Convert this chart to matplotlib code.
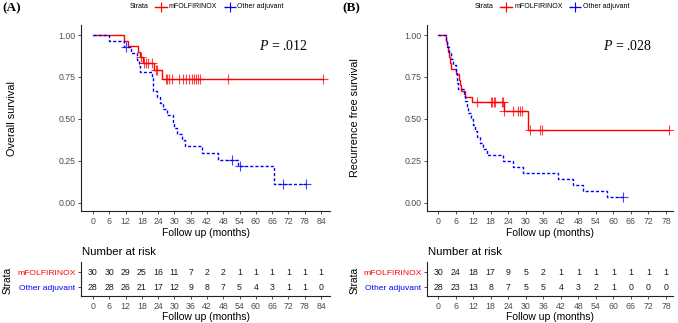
import numpy as np
import matplotlib
matplotlib.use("Agg")
import matplotlib.pyplot as plt
from matplotlib.lines import Line2D

plt.rcParams['font.family'] = ['Liberation Sans', 'DejaVu Sans']
plt.rcParams['mathtext.fontset'] = 'custom'
plt.rcParams['mathtext.it'] = 'Liberation Serif:italic'
plt.rcParams['mathtext.rm'] = 'Liberation Serif'

# ---------------- data ----------------
strata = ["mFOLFIRINOX", "Other adjuvant"]

# Panel A: overall survival
a_red_t = [0, 11.5, 12.9, 16.6, 17.4, 18.4, 22.6, 25.4]
a_red_s = [1.0, 0.967, 0.933, 0.900, 0.867, 0.833, 0.790, 0.737]
a_red_cens = [17.6, 18.9, 19.4, 20.2, 21.9, 23.3, 23.7, 26.9, 27.4, 28.0, 29.0,
              31.8, 33.1, 34.1, 35.3, 36.4, 37.3, 38.0, 38.7, 39.5, 49.7, 84.6]

a_blue_t = [0, 6.0, 11.5, 14.1, 16.2, 17.0, 17.3, 21.8, 22.0, 22.2, 23.5, 24.7,
            25.9, 27.1, 29.6, 29.9, 30.8, 32.7, 33.9, 40.0, 46.2, 53.6, 66.5]
a_blue_s = [1.0, 0.964, 0.929, 0.891, 0.854, 0.817, 0.780, 0.743, 0.706, 0.669,
            0.632, 0.595, 0.558, 0.520, 0.483, 0.446, 0.409, 0.372, 0.335, 0.297,
            0.257, 0.217, 0.110]
a_blue_cens = [12.3, 51.1, 54.2, 70.1, 78.5]

a_risk_times = [0, 6, 12, 18, 24, 30, 36, 42, 48, 54, 60, 66, 72, 78, 84]
a_risk_red = [30, 30, 29, 25, 16, 11, 7, 2, 2, 1, 1, 1, 1, 1, 1]
a_risk_blue = [28, 28, 26, 21, 17, 12, 9, 8, 7, 5, 4, 3, 1, 1, 0]
a_pval = ".012"
a_ylabel = "Overall survival"

# Panel B: recurrence free survival
b_red_t = [0, 2.6, 3.0, 3.5, 3.8, 4.1, 4.5, 6.2, 7.3, 7.6, 7.9, 9.2, 11.5, 22.4, 30.6]
b_red_s = [1.0, 0.967, 0.933, 0.900, 0.867, 0.833, 0.800, 0.767, 0.733, 0.700,
           0.667, 0.633, 0.600, 0.545, 0.436]
b_red_cens = [13.2, 18.1, 18.6, 19.0, 19.4, 21.8, 22.1, 22.6, 25.8, 27.5, 28.1,
              28.6, 31.5, 34.9, 35.5, 78.9]

b_blue_t = [0, 2.8, 3.2, 3.7, 4.3, 5.2, 6.1, 6.3, 6.5, 6.8, 8.8, 9.3, 9.9, 10.4,
            11.2, 11.8, 12.6, 13.2, 14.2, 15.3, 16.6, 22.3, 25.8, 29.0, 41.0,
            46.3, 49.6, 57.7]
b_blue_s = [1.0, 0.964, 0.929, 0.893, 0.857, 0.821, 0.786, 0.750, 0.714, 0.679,
            0.643, 0.607, 0.571, 0.536, 0.500, 0.464, 0.429, 0.393, 0.357, 0.321,
            0.286, 0.250, 0.214, 0.179, 0.143, 0.107, 0.071, 0.036]
b_blue_cens = [63.4]

b_risk_times = [0, 6, 12, 18, 24, 30, 36, 42, 48, 54, 60, 66, 72, 78]
b_risk_red = [30, 24, 18, 17, 9, 5, 2, 1, 1, 1, 1, 1, 1, 1]
b_risk_blue = [28, 23, 13, 8, 7, 5, 5, 4, 3, 2, 1, 0, 0, 0]
b_pval = ".028"
b_ylabel = "Recurrence free survival"

RED = "#FF0000"
BLUE = "#0000FF"
W, H = 678, 323

fig = plt.figure(figsize=(W / 100, H / 100), dpi=100)


def fx(px):
    return px / W


def fy(py):
    return 1 - py / H


def rect(l, t, r, b):
    return [fx(l), fy(b), (r - l) / W, (b - t) / H]


def style_axis(ax):
    for s in ["top", "right"]:
        ax.spines[s].set_visible(False)
    for s in ["left", "bottom"]:
        ax.spines[s].set_linewidth(0.8)
        ax.spines[s].set_color("#222222")
    ax.tick_params(length=2.5, width=0.6, color="#333333", labelsize=6.3,
                   labelcolor="#4D4D4D", pad=1.5)


def km(ax, t, s, cens, color, dashed):
    end = max(max(t), max(cens))
    xs = list(t) + [end]
    ys = list(s) + [s[-1]]
    ln, = ax.plot(xs, ys, drawstyle="steps-post", color=color, lw=1.0,
                  solid_joinstyle="miter")
    if dashed:
        ln.set_dashes((2.2, 1.5))
    ta = np.asarray(t)
    cy = [s[np.searchsorted(ta, c, side="right") - 1] for c in cens]
    ax.plot(cens, cy, ls="none", marker="+", ms=6.5, mew=0.8, color=color,
            alpha=0.75)


def panel(x0, x1, xlim, xt, red, blue, risk_t, risk_r, risk_b, pval, ylabel,
          tag, ylab_x, strata_x, leg):
    ax = fig.add_axes(rect(x0, 25, x1, 211))
    style_axis(ax)
    km(ax, *red, RED, False)
    km(ax, *blue, BLUE, True)
    ax.set_xlim(*xlim)
    ax.set_ylim(-0.05, 1.06)
    ax.set_xticks(xt)
    ax.set_yticks([0, 0.25, 0.5, 0.75, 1.0])
    ax.set_yticklabels(["0.00", "0.25", "0.50", "0.75", "1.00"])
    ax.text(0.815, 0.885, r"$P$ = " + pval, transform=ax.transAxes,
            fontsize=10, family="Liberation Serif", ha="center", va="center")
    cx = (x0 + x1) / 2
    fig.text(fx(cx), fy(233), "Follow up (months)", fontsize=7.5,
             ha="center", va="center")
    fig.text(fx(ylab_x), fy(118), ylabel, fontsize=7.8, rotation=90,
             ha="center", va="center")

    # risk table
    tb = fig.add_axes(rect(x0, 262, x1, 296))
    style_axis(tb)
    tb.set_xlim(*xlim)
    tb.set_ylim(0.4, 2.67)
    tb.set_xticks(xt)
    tb.set_yticks([2, 1])
    tb.set_yticklabels(strata, fontsize=6.1)
    for lab, c in zip(tb.get_yticklabels(), [RED, BLUE]):
        lab.set_color(c)
    for tt, r, b in zip(risk_t, risk_r, risk_b):
        tb.text(tt, 2, str(r), ha="center", va="center", fontsize=6.3,
                color="#1A1A1A")
        tb.text(tt, 1, str(b), ha="center", va="center", fontsize=6.3,
                color="#1A1A1A")
    fig.text(fx(x0 + 1), fy(252), "Number at risk", fontsize=8.2,
             ha="left", va="center")
    fig.text(fx(cx), fy(317), "Follow up (months)", fontsize=7.5,
             ha="center", va="center")
    fig.text(fx(strata_x), fy(280), "Strata", fontsize=7.3, rotation=90,
             ha="center", va="center")

    # tag
    fig.text(fx(tag[0]), fy(8), tag[1], fontsize=9.5, fontweight="bold",
             family="Liberation Serif", ha="left", va="center")

    # legend
    sx, rk, rtx, bk, btx = leg
    ly = fy(7)
    fig.text(fx(sx), ly, "Strata", fontsize=5.0, ha="left", va="center")
    fig.add_artist(Line2D([fx(rk - 6), fx(rk + 6)], [ly, ly], color=RED,
                          lw=1.0, transform=fig.transFigure))
    fig.add_artist(Line2D([fx(rk)], [ly], color=RED, marker="+", ms=7,
                          mew=0.8, ls="none", transform=fig.transFigure))
    fig.text(fx(rtx), ly, strata[0], fontsize=5.0, ha="left", va="center")
    bl = Line2D([fx(bk - 6), fx(bk + 6)], [ly, ly], color=BLUE, lw=1.0,
                transform=fig.transFigure)
    bl.set_dashes((2.2, 1.5))
    fig.add_artist(bl)
    fig.add_artist(Line2D([fx(bk)], [ly], color=BLUE, marker="+", ms=7,
                          mew=0.8, ls="none", transform=fig.transFigure))
    fig.text(fx(btx), ly, strata[1], fontsize=5.0, ha="left", va="center")


panel(81, 330, (-4.4, 87.3), a_risk_times,
      (a_red_t, a_red_s, a_red_cens), (a_blue_t, a_blue_s, a_blue_cens),
      a_risk_times, a_risk_red, a_risk_blue, a_pval, a_ylabel,
      (2, "(A)"), 12, 8, (130, 161, 169, 230, 237))

panel(427, 673, (-3.8, 80.4), b_risk_times,
      (b_red_t, b_red_s, b_red_cens), (b_blue_t, b_blue_s, b_blue_cens),
      b_risk_times, b_risk_red, b_risk_blue, b_pval, b_ylabel,
      (342, "(B)"), 355, 355, (475, 506, 515, 575, 583))

fig.savefig("out.png", dpi=100)
